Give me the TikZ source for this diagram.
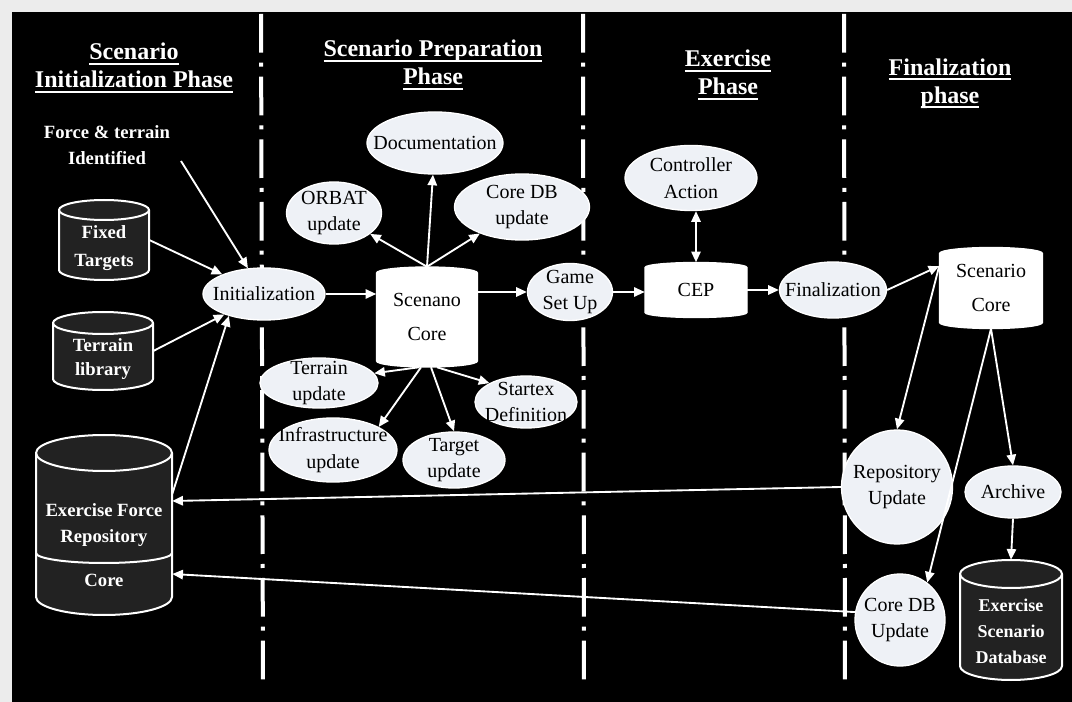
\documentclass[tikz,border=0pt]{standalone}
\usepackage{fontspec}
\setmainfont{Liberation Serif}
\usetikzlibrary{shapes.geometric,arrows.meta,calc}
\definecolor{paper}{HTML}{ECECEC}
\definecolor{ellfill}{HTML}{EEF1F6}
\definecolor{cylfill}{HTML}{222222}
\newcommand\ttl[1]{\setbox0\hbox{#1}\leavevmode\rlap{\rule[-3.5pt]{\wd0}{1.5pt}}\box0}
\newcommand\cylshape[6]{%
  \path[#6] ({#1-#3/2},{-#2+#4/2-#5}) -- ({#1-#3/2},{-#2-#4/2+#5})
    arc[start angle=180,end angle=360,x radius={#3/2},y radius={#5}]
    -- ({#1+#3/2},{-#2+#4/2-#5})
    arc[start angle=0,end angle=180,x radius={#3/2},y radius={#5}] -- cycle;}
\newcommand\cylrim[5]{%
  \draw[rim] ({#1-#3/2},{-#2+#4/2-#5})
    arc[start angle=180,end angle=360,x radius={#3/2},y radius={#5}];}
\tikzset{
  sz/.style 2 args={minimum width=#1*0.75pt, minimum height=#2*0.75pt},
  ell/.style={ellipse, draw=white, line width=1pt, fill=ellfill, inner sep=0pt},
  etxt/.style={inner sep=0pt, align=center, text=black, font=\fontsize{15}{20}\selectfont},
  shp/.style={inner sep=0pt, draw=none},
  core/.style={inner sep=0pt, align=center, text=black, font=\fontsize{15}{26}\selectfont},
  dark/.style={fill=cylfill, draw=white, line width=1.5pt},
  light/.style={fill=white, draw=white, line width=1pt},
  rim/.style={draw=white, line width=1.5pt},
  wtxt/.style={text=white, align=center, font=\fontsize{14}{20}\selectfont\bfseries, inner sep=0pt},
  title/.style={text=white, align=center, font=\fontsize{18}{21}\selectfont\bfseries, inner sep=0pt},
  divider/.style={draw=white, line width=3pt, dash pattern=on 29pt off 7.5pt on 3pt off 7.5pt},
  conn/.style={draw=white, line width=1.4pt, -{Triangle[width=7pt,length=8pt]}},
  biconn/.style={draw=white, line width=1.4pt, {Triangle[width=7pt,length=8pt]}-{Triangle[width=7pt,length=8pt]}},
}
\begin{document}
\begin{tikzpicture}[x=0.75pt,y=0.75pt]
\fill[paper] (0,0) rectangle (1072,-702);
\fill[black] (12,-12) rectangle (1072,-702);
\useasboundingbox (0,0) rectangle (1072,-702);

% phase dividers
\draw[divider] (261,-14) -- (263,-686);
\draw[divider] (583,-14) -- (584,-686);
\draw[divider] (844,-14) -- (845,-686);

% titles
\node[title] (t1) at (134,-68) {\ttl{Scenario}\\\ttl{Initialization Phase}};
\node[title] (t2) at (433,-65) {\ttl{Scenario Preparation}\\\ttl{Phase}};
\node[title] (t3) at (728,-75) {\ttl{Exercise}\\\ttl{Phase}};
\node[title] (t4) at (950,-84) {\ttl{Finalization}\\\ttl{phase}};

\node[wtxt, font=\fontsize{14}{19}\selectfont\bfseries] (force) at (107,-145) {Force \& terrain\\Identified};

% dark cylinders
\cylshape{104}{240}{90}{80}{10}{dark}\cylrim{104}{240}{90}{80}{10}
\node[shp, sz={90}{80}] (fixed) at (104,-240) {};
\node[wtxt, font=\fontsize{14}{21}\selectfont\bfseries] (fixed-t) at (104,-248) {Fixed\\Targets};

\cylshape{103}{351}{100}{78}{11}{dark}\cylrim{103}{351}{100}{78}{11}
\node[shp, sz={100}{78}] (tlib) at (103,-351) {};
\node[wtxt, font=\fontsize{14}{18}\selectfont\bfseries] (tlib-t) at (103,-359) {Terrain\\library};

\cylshape{104}{525}{136}{180}{18}{dark}\cylrim{104}{525}{136}{180}{18}
\draw[rim] (36,-553) arc[start angle=180,end angle=360,x radius=68,y radius=10];
\node[shp, sz={136}{180}] (efr) at (104,-525) {};
\node[wtxt] (efr-t) at (104,-525) {Exercise Force\\Repository};
\node[wtxt] (efr-c) at (104,-580) {Core};

\cylshape{1011}{620}{102}{120}{14}{dark}\cylrim{1011}{620}{102}{120}{14}
\node[shp, sz={102}{120}] (esd) at (1011,-620) {};
\node[wtxt, font=\fontsize{13.5}{19.5}\selectfont\bfseries] (esd-t) at (1011,-631) {Exercise\\Scenario\\Database};

% white core shapes
\cylshape{427}{317}{101}{100}{6}{light}
\node[core, sz={101}{100}] (sc) at (427,-317) {Scenano\\Core};
\cylshape{696}{290}{102}{55}{5}{light}
\node[core, sz={102}{55}] (cep) at (696,-290) {CEP};
\cylshape{991}{288}{103}{81}{6}{light}
\node[core, sz={103}{81}] (scf) at (991,-288) {Scenario\\Core};

% ellipses
\node[ell, sz={122}{52}] (init) at (264,-294) {};
\node[etxt] (init-t) at (init) {Initialization};
\node[ell, sz={136}{62}] (doc) at (435,-143) {};
\node[etxt] (doc-t) at (doc) {Documentation};
\node[ell, sz={95}{62}] (orbat) at (334,-213) {};
\node[etxt] (orbat-t) at (orbat) {ORBAT\\update};
\node[ell, sz={135}{66}] (coredb) at (522,-207) {};
\node[etxt] (coredb-t) at (coredb) {Core DB\\update};
\node[ell, sz={85}{57}] (game) at (570,-292) {};
\node[etxt] (game-t) at (game) {Game\\Set Up};
\node[ell, sz={118}{50}] (terrupd) at (319,-383) {};
\node[etxt] (terrupd-t) at (terrupd) {Terrain\\update};
\node[ell, sz={128}{64}] (infra) at (333,-450) {};
\node[etxt] (infra-t) at (infra) {Infrastructure\\update};
\node[ell, sz={102}{56}] (target) at (454,-460) {};
\node[etxt] (target-t) at (target) {Target\\update};
\node[ell, sz={102}{52}] (startex) at (526,-402) {};
\node[etxt] (startex-t) at (startex) {Startex\\Definition};
\node[ell, sz={132}{65}] (ctrl) at (691,-178) {};
\node[etxt] (ctrl-t) at (ctrl) {Controller\\Action};
\node[ell, sz={107}{56}] (fin) at (833,-290) {};
\node[etxt] (fin-t) at (fin) {Finalization};
\node[ell, sz={111}{114}] (repupd) at (897,-487) {};
\node[etxt] (repupd-t) at (repupd) {Repository\\Update};
\node[ell, sz={96}{52}] (archive) at (1013,-492) {};
\node[etxt] (archive-t) at (archive) {Archive};
\node[ell, sz={90}{92}] (coredbupd) at (900,-620) {};
\node[etxt] (coredbupd-t) at (coredbupd) {Core DB\\Update};

% connectors
\coordinate (fstart) at (181,-161);
\draw[conn] (fstart) -- (init);
\draw[conn] (fixed.east) -- (init);
\draw[conn] (tlib.east) -- (init);
\draw[conn] ($(efr.east)+(0,31)$) -- (init.212);
\draw[conn] (init.east) -- (init.east -| sc.west);
\draw[conn] (sc.north) -- (orbat);
\draw[conn] (sc.north) -- (doc);
\draw[conn] (sc.north) -- (coredb);
\draw[conn] ($(sc.south)+(-8,0)$) -- (terrupd.10);
\draw[conn] ($(sc.south)+(-6,0)$) -- (infra.north east);
\draw[conn] ($(sc.south)+(4,0)$) -- (target.north);
\draw[conn] ($(sc.south)+(10,0)$) -- (startex.north west);
\draw[conn] (game.west -| sc.east) -- (game.west);
\draw[conn] (game.east) -- (game.east -| cep.west);
\draw[biconn] (cep.north) -- (cep.north |- ctrl.south);
\draw[conn] (cep.east) -- (fin.west);
\coordinate (scin) at ($(scf.west)+(0,22)$);
\draw[conn] (fin.east) -- (scin);
\draw[conn] (scin) -- (repupd.north);
\draw[conn] (scf.south) -- (coredbupd.54);
\draw[conn] (scf.south) -- (archive.north);
\draw[conn] (archive.south) -- (esd.north);
\draw[conn] (repupd.west) -- ($(efr.east)+(0,24)$);
\draw[conn] (coredbupd.170) -- ($(efr.east)+(0,-49)$);
\end{tikzpicture}
\end{document}
